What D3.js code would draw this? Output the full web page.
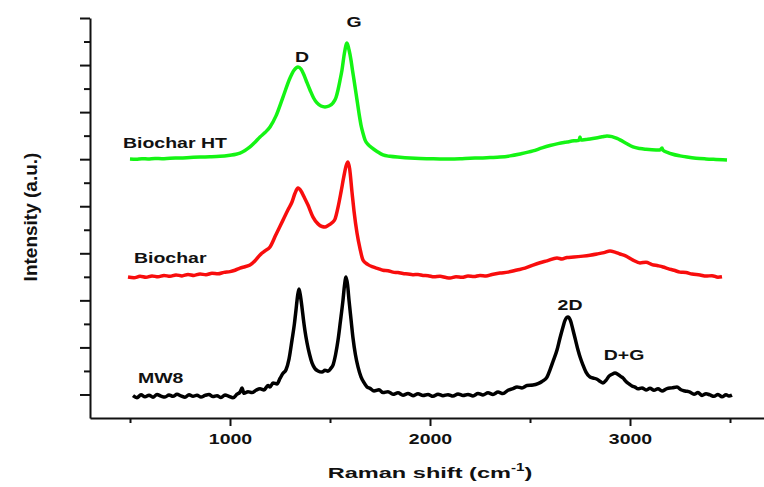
<!DOCTYPE html>
<html>
<head>
<meta charset="utf-8">
<script src="https://cdn.jsdelivr.net/npm/d3@7"></script>
<style>
body{margin:0;background:#fff}
text{font-family:"Liberation Sans",Arial,sans-serif;font-weight:bold;fill:#111}
</style>
</head>
<body>
<svg id="chart" width="764" height="487"></svg>
<script>

// Raman spectra: [wavenumber cm-1, intensity a.u.]
var mw8 = [[515,95],[535,86],[555,99],[575,90],[595,97],[615,88],[635,100],[655,93],[675,89],[695,98],[715,92],[735,101],[755,94],[775,88],[795,99],[815,92],[835,97],[855,89],[875,96],[895,100],[915,91],[935,95],[955,87],[975,98],[995,92],[1015,86],[1035,101],[1050,110],[1060,127],[1070,105],[1090,112],[1110,108],[1130,118],[1150,124],[1170,119],[1190,138],[1200,132],[1215,149],[1235,145],[1250,168],[1265,190],[1280,205],[1295,250],[1310,331],[1322,400],[1330,459],[1338,520],[1345,548],[1352,520],[1360,470],[1367,420],[1375,370],[1385,320],[1398,270],[1410,234],[1425,210],[1440,200],[1460,195],[1475,203],[1490,199],[1505,212],[1515,225],[1528,270],[1540,330],[1552,410],[1565,501],[1572,560],[1580,599],[1588,565],[1595,501],[1605,420],[1615,340],[1627,270],[1640,217],[1655,175],[1670,150],[1685,132],[1700,126],[1720,115],[1745,120],[1765,108],[1790,112],[1815,101],[1840,107],[1865,97],[1890,104],[1915,95],[1940,103],[1965,96],[1990,100],[2015,92],[2040,101],[2065,95],[2090,99],[2115,93],[2140,102],[2165,96],[2190,100],[2215,94],[2240,104],[2265,98],[2290,107],[2315,100],[2340,110],[2365,104],[2390,118],[2415,125],[2435,132],[2460,128],[2485,138],[2515,140],[2540,146],[2560,155],[2585,174],[2600,205],[2615,240],[2635,289],[2650,340],[2665,387],[2675,415],[2690,429],[2702,415],[2715,374],[2728,330],[2740,289],[2752,255],[2765,225],[2780,195],[2800,174],[2815,170],[2835,165],[2850,156],[2865,149],[2880,160],[2895,178],[2910,186],[2925,191],[2940,185],[2955,176],[2965,170],[2980,155],[2995,145],[3010,136],[3025,131],[3040,124],[3060,128],[3080,119],[3100,126],[3120,118],[3140,124],[3160,115],[3185,125],[3210,128],[3235,132],[3255,120],[3275,115],[3300,110],[3320,101],[3340,108],[3360,96],[3380,103],[3400,98],[3420,92],[3440,100],[3460,90],[3480,99],[3495,93],[3510,97]]

var biochar = [[490,599],[520,596],[550,602],[580,598],[610,604],[640,600],[670,606],[700,602],[730,608],[760,604],[790,610],[820,606],[850,612],[880,609],[910,615],[940,613],[970,619],[1000,622],[1025,628],[1050,637],[1075,643],[1100,650],[1125,668],[1150,693],[1175,710],[1200,727],[1230,780],[1265,841],[1290,885],[1310,918],[1325,955],[1340,977],[1355,965],[1370,940],[1390,905],[1415,854],[1440,825],[1460,814],[1475,812],[1490,818],[1510,830],[1525,845],[1540,895],[1555,960],[1570,1030],[1580,1070],[1590,1088],[1598,1060],[1610,960],[1620,880],[1635,786],[1650,720],[1665,671],[1690,652],[1715,642],[1740,635],[1765,628],[1790,626],[1815,620],[1840,618],[1865,614],[1890,612],[1915,609],[1940,610],[1965,606],[1990,605],[2020,600],[2050,602],[2080,597],[2100,595],[2130,600],[2160,598],[2190,603],[2220,601],[2250,606],[2280,604],[2310,610],[2350,616],[2390,620],[2435,629],[2475,637],[2515,650],[2550,660],[2585,668],[2635,680],[2660,676],[2685,682],[2720,684],[2765,688],[2800,692],[2835,697],[2870,703],[2900,710],[2925,705],[2950,697],[2975,690],[3015,671],[3050,659],[3080,662],[3110,652],[3140,647],[3165,642],[3190,635],[3220,628],[3250,620],[3280,618],[3310,612],[3350,608],[3380,603],[3410,605],[3440,598],[3460,600]]

var biocharHT = [[500,1101],[530,1100],[560,1102],[590,1101],[625,1103],[660,1102],[700,1104],[750,1105],[800,1107],[850,1109],[900,1110],[950,1112],[1000,1117],[1030,1121],[1050,1126],[1075,1137],[1100,1152],[1125,1172],[1150,1194],[1175,1213],[1200,1237],[1230,1284],[1265,1364],[1300,1445],[1320,1478],[1340,1492],[1355,1483],[1370,1458],[1385,1425],[1400,1394],[1418,1360],[1435,1339],[1455,1326],[1475,1322],[1495,1326],[1515,1339],[1530,1362],[1540,1394],[1550,1435],[1560,1479],[1572,1550],[1585,1594],[1595,1565],[1605,1521],[1612,1480],[1620,1437],[1635,1352],[1645,1295],[1655,1245],[1665,1210],[1675,1182],[1690,1163],[1710,1148],[1735,1133],[1765,1118],[1800,1112],[1850,1108],[1900,1105],[1950,1103],[2000,1102],[2050,1101],[2100,1101],[2150,1102],[2200,1104],[2250,1105],[2300,1107],[2350,1109],[2400,1114],[2450,1122],[2515,1135],[2560,1148],[2600,1158],[2640,1166],[2685,1173],[2720,1178],[2745,1180],[2750,1194],[2755,1181],[2780,1184],[2800,1186],[2830,1190],[2860,1195],[2885,1199],[2910,1196],[2935,1188],[2950,1182],[2980,1168],[3015,1152],[3050,1145],[3080,1142],[3110,1140],[3150,1139],[3160,1147],[3165,1138],[3190,1128],[3210,1122],[3250,1114],[3285,1109],[3330,1104],[3380,1101],[3430,1099],[3485,1097]]

var seriesNames = ["Biochar HT", "Biochar", "MW8"]
var peakNames = ["D", "G", "2D", "D+G"]
var xMajorTicks = [1000, 2000, 3000]
var xMinorTicks = [500, 1500, 2500, 3500]
var yMajorTicks = [100, 300, 500, 700, 900, 1100, 1300, 1500, 1700]
var yMinorTicks = [200, 400, 600, 800, 1000, 1200, 1400, 1600]

var svg = d3.select("#chart")
var stretch = 1.3

var x = d3.scaleLinear().domain([300, 3670]).range([90, 764])
var y = d3.scaleLinear().domain([0, 1700]).range([418, 18])

// x axis
var gxMinor = svg.append("g").attr("transform", "translate(0,418)")
  .call(d3.axisBottom(x).tickValues(xMinorTicks).tickSize(5).tickSizeOuter(0).tickFormat(""))
var gxMajor = svg.append("g").attr("transform", "translate(0,418)")
  .call(d3.axisBottom(x).tickValues(xMajorTicks).tickSize(8).tickSizeOuter(0).tickFormat(d3.format("d")))
gxMajor.select(".domain").remove()
gxMajor.selectAll("text")
  .attr("y", 26).attr("dy", 0)
  .attr("transform", "scale(" + stretch + ",1)")
  .style("font-size", "15px")
  .attr("font-family", null)

// y axis
var gyMinor = svg.append("g").attr("transform", "translate(90,0)")
  .call(d3.axisLeft(y).tickValues(yMinorTicks).tickSize(6).tickSizeOuter(0).tickFormat(""))
var gyMajor = svg.append("g").attr("transform", "translate(90,0)")
  .call(d3.axisLeft(y).tickValues(yMajorTicks).tickSize(10).tickSizeOuter(0).tickFormat(""))
gyMajor.select(".domain").remove()

svg.selectAll(".domain").attr("stroke", "#111").attr("stroke-width", 2)
svg.selectAll(".tick line").attr("stroke", "#111").attr("stroke-width", 2)

// spectra
var line = d3.line()
  .x(d => x(d[0]))
  .y(d => y(d[1]))
  .curve(d3.curveMonotoneX)

var spectra = [
  {data: biocharHT, color: "#14f414"},
  {data: biochar, color: "#f80d0d"},
  {data: mw8, color: "#000"}
]

svg.selectAll("path.spectrum").data(spectra).enter()
  .append("path")
  .attr("class", "spectrum")
  .attr("d", d => line(d.data))
  .attr("fill", "none")
  .attr("stroke", d => d.color)
  .attr("stroke-width", 3.5)
  .attr("stroke-linejoin", "round")

function label(txt, px, py, size, anchor) {
  svg.append("text")
    .attr("transform", "translate(" + px + "," + py + ") scale(" + stretch + ",1)")
    .attr("text-anchor", anchor || "start")
    .style("font-size", size + "px")
    .text(txt)
}

// series labels
label(seriesNames[0], 123, 148, 15)
label(seriesNames[1], 134, 263, 15)
label(seriesNames[2], 138, 383, 15)

// peak labels
label(peakNames[0], 302, 62, 15, "middle")
label(peakNames[1], 354, 27, 15, "middle")
label(peakNames[2], 570, 310, 15, "middle")
label(peakNames[3], 624, 360, 15, "middle")

// axis titles
var xt = svg.append("text")
  .attr("transform", "translate(430,478) scale(1.52,1)")
  .attr("text-anchor", "middle")
  .style("font-size", "15.5px")
xt.append("tspan").text("Raman shift (cm")
xt.append("tspan").attr("dy", -7).style("font-size", "10px").text("-1")
xt.append("tspan").attr("dy", 7).text(")")

svg.append("text")
  .attr("transform", "translate(37,217) rotate(-90)")
  .attr("text-anchor", "middle")
  .style("font-size", "19px")
  .text("Intensity (a.u.)")

</script>
</body>
</html>
